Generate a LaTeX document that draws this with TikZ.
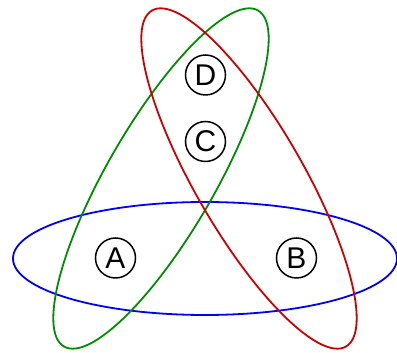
\documentclass[tikz,border=0pt]{standalone}
\usepackage{fontspec}
\setmainfont{Liberation Sans}
\usepackage{tikz}
\usetikzlibrary{positioning}

\definecolor{setblue}{RGB}{0,0,240}
\definecolor{setgreen}{RGB}{0,140,0}
\definecolor{setred}{RGB}{204,0,0}

\begin{document}
\begin{tikzpicture}[x=1pt,y=1pt,
  letter/.style={draw,circle,line width=1.5pt,minimum size=40pt,inner sep=0pt,font=\fontsize{30}{30}\selectfont}]

\useasboundingbox (0,0) rectangle (397,353);

% Three overlapping ellipses, rotated by 60 degrees each
\draw[setblue,line width=1.8pt] (205,94.5) ellipse (192 and 56.5);
\draw[setgreen,line width=1.8pt,rotate around={60:(161,174.5)}] (161,174.5) ellipse (194 and 54);
\draw[setred,line width=1.8pt,rotate around={120:(249,174.5)}] (249,174.5) ellipse (194 and 54);

% Elements
\node[letter] (d) at (205.5,278) {D};
\node[letter] (c) at (205.5,211.5) {C};
\node[letter] (a) at (115.5,95) {A};
\node[letter] (b) at (296.5,95) {B};

\end{tikzpicture}
\end{document}
